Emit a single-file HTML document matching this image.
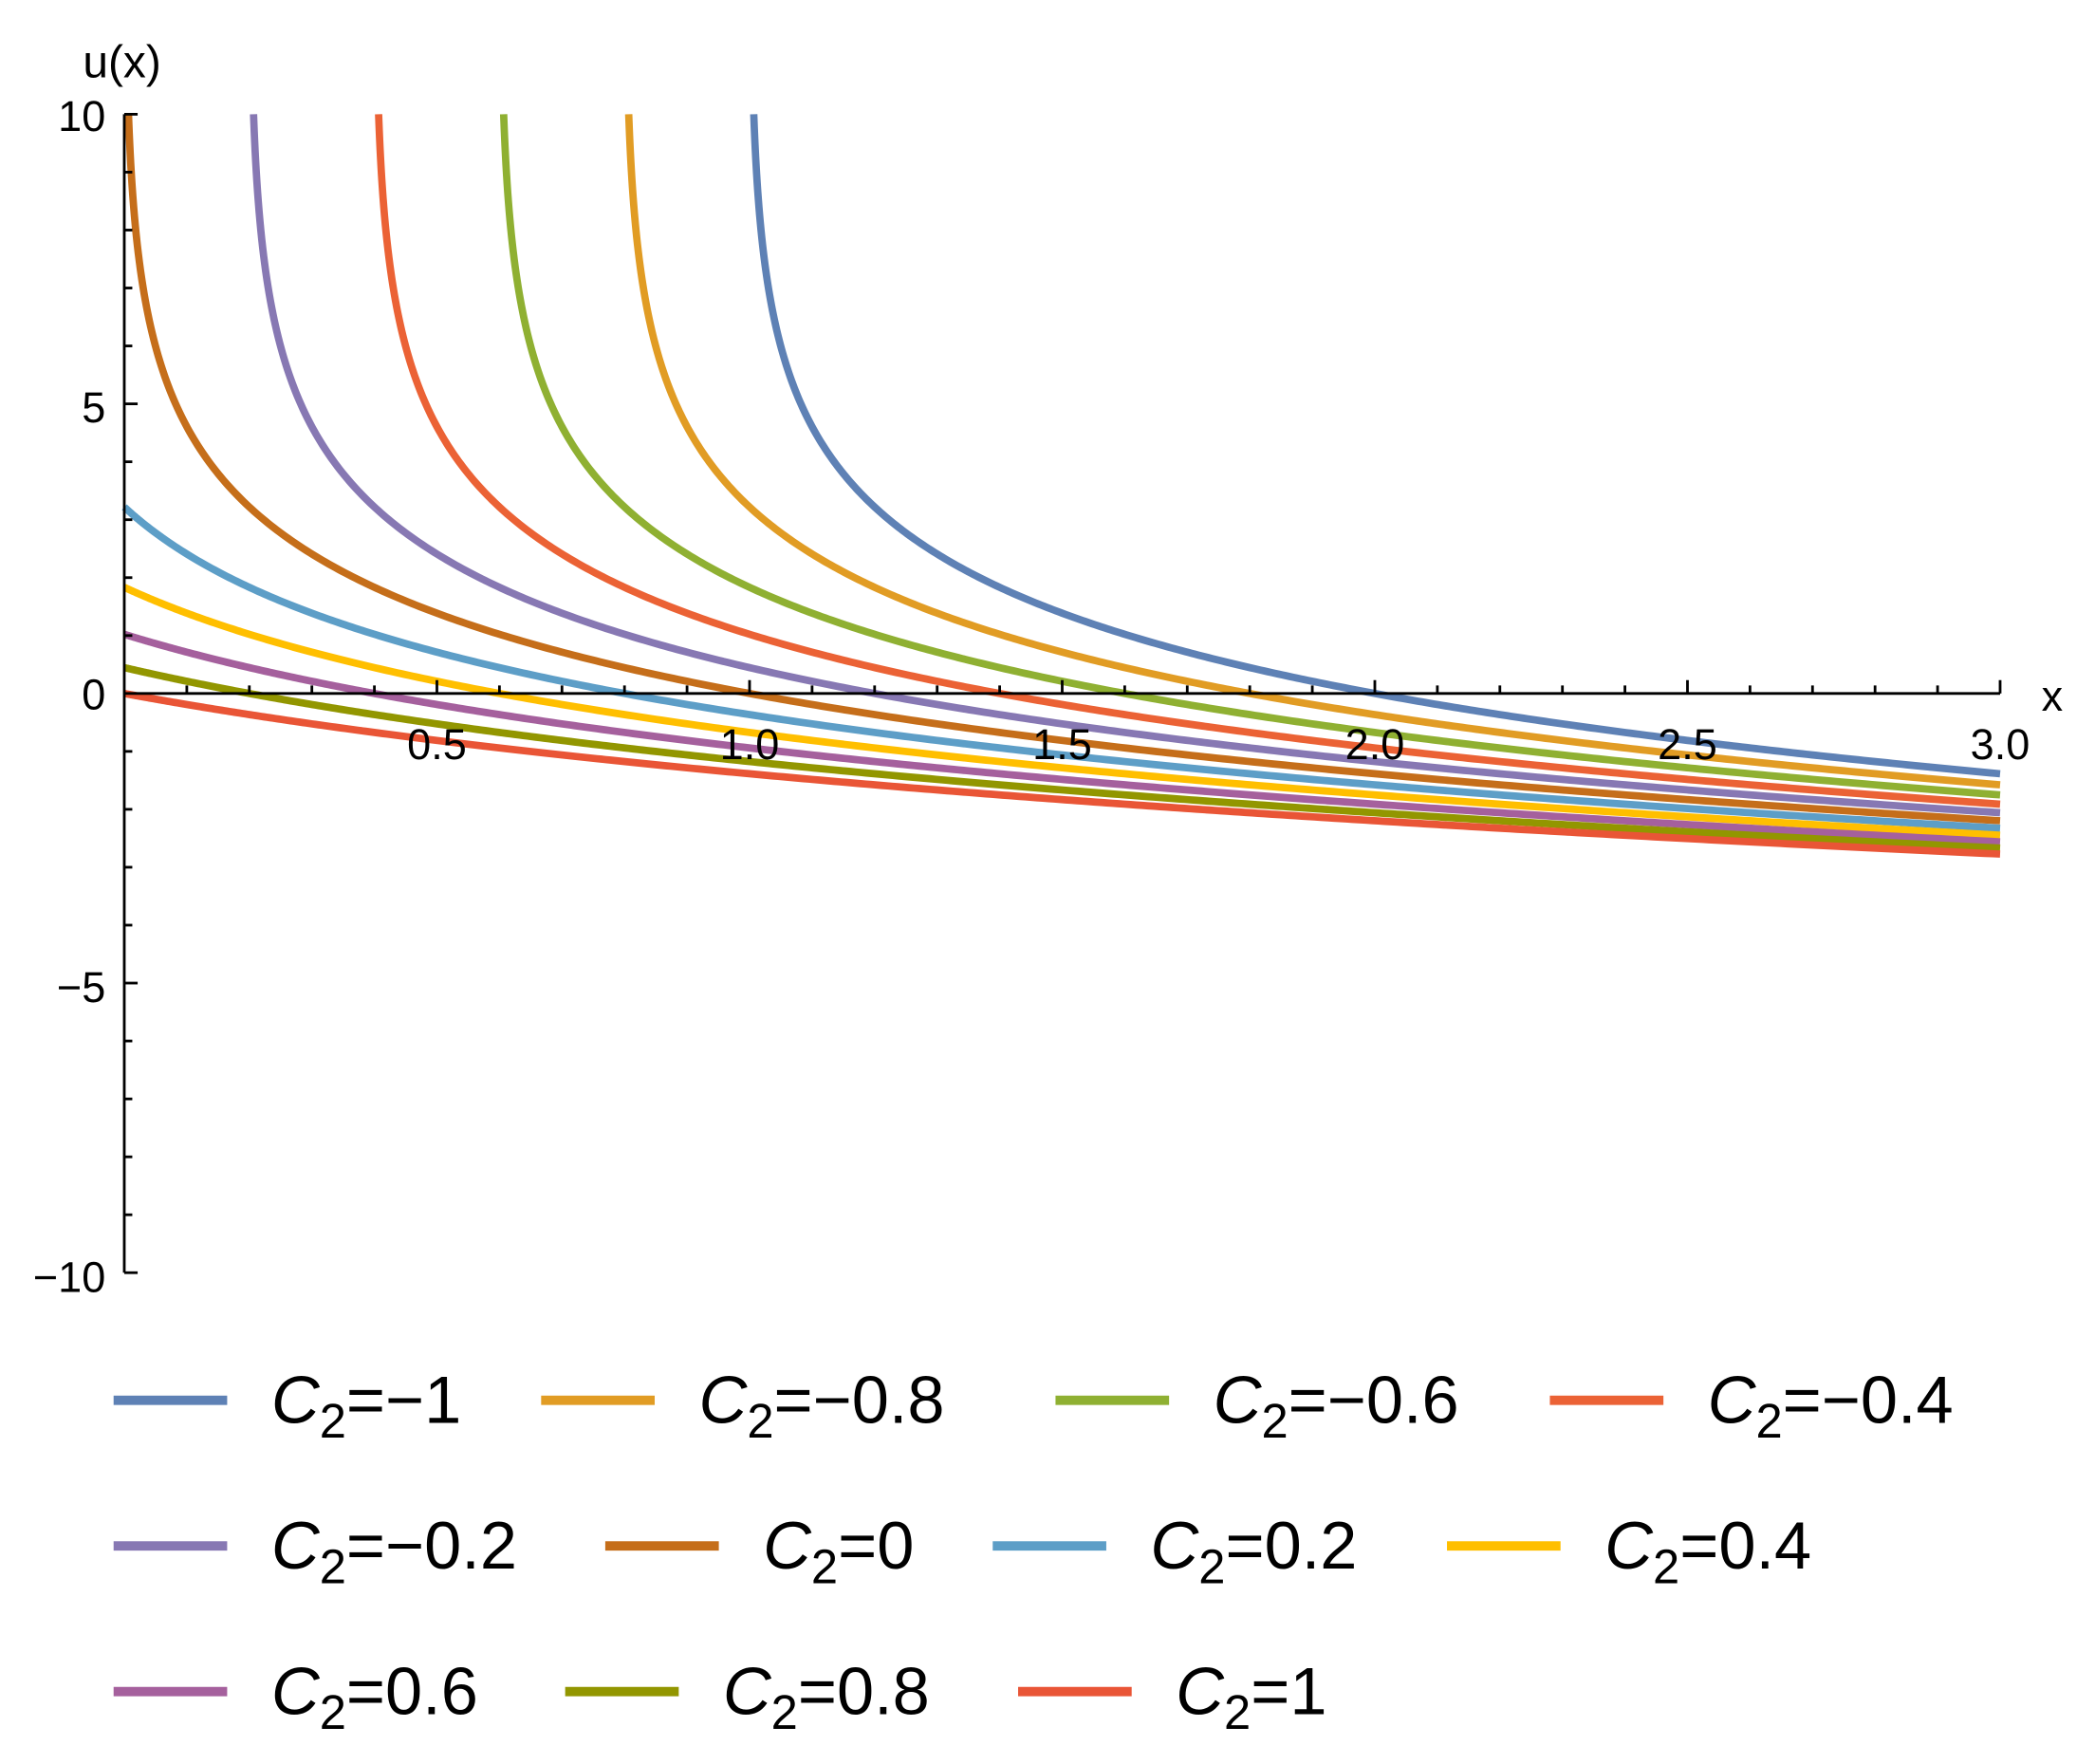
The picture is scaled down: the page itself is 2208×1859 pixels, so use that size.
<!DOCTYPE html>
<html><head><meta charset="utf-8"><style>
html,body{margin:0;padding:0;background:#fff;}
svg{display:block;}
text{font-family:"Liberation Sans",Arial,sans-serif;fill:#000;}
</style></head><body>
<svg id="s" width="2208" height="1859" viewBox="0 0 1568 1320.2" xmlns="http://www.w3.org/2000/svg">
<rect width="1568" height="1321" fill="#fff"/>
<g id="curves" fill="none" stroke-width="5.5" stroke-linejoin="round"></g>
<g id="axes" stroke="#000" stroke-width="2" fill="none"></g>
<g id="labels" font-size="32"></g>
<text x="62" y="58" font-size="34">u(x)</text>
<text x="1528" y="532" font-size="32">x</text>
<g id="legend" font-size="50"></g>
</svg>
<script>
var NS="http://www.w3.org/2000/svg";
var X0=93,XS=468,Y0=519,YS=43.35;
function px(x){return X0+x*XS;} function py(u){return Y0-u*YS;}
var cols=["#5E81B5","#E19C24","#8FB032","#EB6235","#8778B3","#C56E1A","#5D9EC7","#FFBF00","#A5609D","#929600","#E95536"];
var Cs=[-1,-0.8,-0.6,-0.4,-0.2,0,0.2,0.4,0.6,0.8,1];
var cg=document.getElementById("curves");
Cs.forEach(function(C,i){
  var xs=Math.max(0,-C+Math.exp(-5)+1e-9);
  var d="";
  var N=400;
  for(var k=0;k<=N;k++){
    var t=k/N;
    var x=xs+(3-xs)*Math.pow(t,1.6);
    var u=-2*Math.log(x+C);
    if(u>10)u=10;
    d+=(k?"L":"M")+px(x).toFixed(2)+" "+py(u).toFixed(2);
  }
  var p=document.createElementNS(NS,"path");
  p.setAttribute("d",d);p.setAttribute("stroke",cols[i]);cg.appendChild(p);
});
var ag=document.getElementById("axes");
function line(x1,y1,x2,y2){var l=document.createElementNS(NS,"line");l.setAttribute("x1",x1);l.setAttribute("y1",y1);l.setAttribute("x2",x2);l.setAttribute("y2",y2);ag.appendChild(l);}
line(X0,py(10),X0,py(-10));
line(X0,Y0,px(3),Y0);
for(var k=1;k<=30;k++){var x=px(k/10);var maj=(k%5==0);line(x,Y0,x,Y0-(maj?10:6));}
for(var k=-10;k<=10;k++){if(k==0)continue;var y=py(k);var maj=(k%5==0);line(X0,y,X0+(maj?10:6),y);}
var lg=document.getElementById("labels");
function txt(g,x,y,s,anchor,fs){var t=document.createElementNS(NS,"text");t.setAttribute("x",x);t.setAttribute("y",y);if(anchor)t.setAttribute("text-anchor",anchor);if(fs)t.setAttribute("font-size",fs);t.textContent=s;g.appendChild(t);return t;}
["0.5","1.0","1.5","2.0","2.5","3.0"].forEach(function(s,i){txt(lg,px(0.5*(i+1)),568,s,"middle");});
txt(lg,79,98,"10","end");txt(lg,79,316,"5","end");txt(lg,79,531,"0","end");
txt(lg,79,750,"\u22125","end");txt(lg,79,967,"\u221210","end");
var leg=document.getElementById("legend");
var items=[
 [1048,85,203,"\u22121"],[1048,405,523,"\u22120.8"],[1048,790,908,"\u22120.6"],[1048,1160,1278,"\u22120.4"],
 [1157,85,203,"\u22120.2"],[1157,453,571,"0"],[1157,743,861,"0.2"],[1157,1083,1201,"0.4"],
 [1266,85,203,"0.6"],[1266,423,541,"0.8"],[1266,762,880,"1"]];
items.forEach(function(it,i){
  var r=document.createElementNS(NS,"rect");
  r.setAttribute("x",it[1]);r.setAttribute("y",it[0]-3.5);r.setAttribute("width",85);r.setAttribute("height",7);r.setAttribute("fill",cols[i]);leg.appendChild(r);
  var t=txt(leg,it[2],it[0]+17,"");
  var a=document.createElementNS(NS,"tspan");a.setAttribute("font-style","italic");a.textContent="C";t.appendChild(a);
  var b=document.createElementNS(NS,"tspan");b.setAttribute("font-size","36");b.setAttribute("dy","11");b.textContent="2";t.appendChild(b);
  var c=document.createElementNS(NS,"tspan");c.setAttribute("dy","-11");c.textContent="="+it[3];t.appendChild(c);
});
</script>
</body></html>
